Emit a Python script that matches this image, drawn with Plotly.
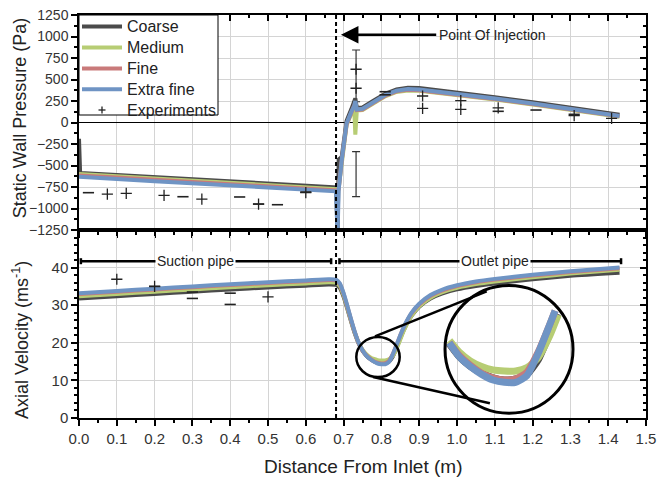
import plotly.graph_objects as go

# ---------------- data ----------------
x_pres = [0.0, 0.003, 0.1, 0.2, 0.3, 0.4, 0.5, 0.6, 0.68, 0.684, 0.687, 0.695, 0.708, 0.72, 0.728,
          0.731, 0.735, 0.75, 0.78, 0.81, 0.84, 0.87, 0.90, 0.95, 1.0, 1.1, 1.2, 1.3, 1.43]
p_coarse = [-190, -586, -610, -635, -660, -685, -710, -735, -755, -1300, -430, -400, 20, 150, 230,
            280, 170, 175, 255, 335, 385, 405, 400, 375, 350, 295, 235, 170, 90]
p_medium = [-600, -601, -625, -650, -675, -700, -725, -750, -770, -775, -760, -450, -30, 100, 170,
            -140, 140, 145, 225, 305, 355, 372, 368, 345, 320, 268, 210, 145, 68]
p_fine = [-615, -616, -640, -665, -690, -715, -740, -765, -785, -790, -775, -445, -20, 110, 180,
          230, 145, 150, 232, 312, 362, 380, 376, 352, 328, 274, 215, 150, 72]
p_extra = [-632, -633, -657, -682, -707, -732, -757, -782, -800, -1300, -780, -440, -10, 120, 190,
           250, 150, 160, 240, 320, 370, 390, 385, 360, 335, 280, 220, 155, 75]

x_vel = [0.0, 0.1, 0.2, 0.3, 0.4, 0.5, 0.6, 0.66, 0.68, 0.69, 0.70, 0.71, 0.72, 0.73, 0.74, 0.75,
         0.76, 0.77, 0.78, 0.79, 0.80, 0.81, 0.82, 0.83, 0.84, 0.85, 0.86, 0.88, 0.90, 0.93, 0.96,
         1.0, 1.05, 1.1, 1.2, 1.3, 1.43]
v_coarse = [31.8, 32.4, 33.0, 33.6, 34.2, 34.7, 35.2, 35.5, 35.4, 34.6, 32.2, 29.0, 25.6, 22.4, 19.8,
            17.9, 16.6, 15.7, 15.1, 14.7, 14.5, 14.6, 15.0, 16.3, 18.6, 21.2, 23.6, 27.2, 29.6, 31.8,
            33.1, 34.2, 35.1, 35.8, 36.9, 37.8, 38.6]
v_medium = [32.4, 33.0, 33.6, 34.2, 34.8, 35.3, 35.8, 36.1, 36.0, 35.1, 32.6, 29.3, 25.8, 22.6, 20.0,
            18.2, 17.0, 16.2, 15.7, 15.4, 15.3, 15.3, 15.6, 16.5, 18.4, 20.9, 23.4, 27.2, 29.7, 32.0,
            33.4, 34.6, 35.6, 36.3, 37.4, 38.4, 39.4]
v_fine = [33.0, 33.6, 34.2, 34.8, 35.4, 35.9, 36.4, 36.7, 36.6, 35.6, 33.0, 29.6, 26.0, 22.7, 19.9,
          18.0, 16.7, 15.8, 15.1, 14.7, 14.5, 14.6, 15.2, 17.0, 19.4, 22.0, 24.3, 27.9, 30.2, 32.5,
          33.9, 35.1, 36.1, 36.8, 37.9, 38.8, 39.8]
v_extra = [33.2, 33.8, 34.4, 35.0, 35.6, 36.1, 36.6, 36.9, 36.8, 35.8, 33.2, 29.8, 26.2, 22.8, 20.0,
           18.0, 16.6, 15.7, 15.0, 14.5, 14.3, 14.3, 14.9, 16.9, 19.4, 22.0, 24.4, 28.0, 30.4, 32.7,
           34.1, 35.3, 36.3, 37.0, 38.1, 39.0, 40.0]

# experiments (pressure)
p_plus_x = [0.075, 0.125, 0.225, 0.325, 0.475, 0.6, 0.733, 0.733, 0.909, 0.909, 1.01, 1.01, 1.109, 1.31, 1.409]
p_plus_y = [-832, -824, -847, -890, -948, -816, 619, 398, 308, 165, 254, 153, 170, 79, 49]
p_dash_x = [0.025, 0.275, 0.425, 0.475, 0.525, 0.6, 0.81, 0.81, 1.109, 1.209, 1.31]
p_dash_y = [-816, -863, -866, -948, -956, -808, 358, 322, 130, 145, 95]
eb_x = [0.733, 0.733]
eb_center = [542, -601]
eb_half = [301, 262]
# experiments (velocity)
v_plus_x = [0.1, 0.2, 0.5]
v_plus_y = [36.9, 35.0, 32.2]
v_dash_x = [0.2, 0.3, 0.3, 0.4, 0.4]
v_dash_y = [35.0, 31.8, 33.5, 33.2, 30.2]

names = ["Coarse", "Medium", "Fine", "Extra fine"]
exp_name = "Experiments"
colors = ["#4b4b4b", "#b7cd74", "#c97a7a", "#6f94c4"]

# ---------------- layout geometry ----------------
SPLIT = 0.4665
XR = [0, 1.5]
PR = [-1250, 1250]
VR = [0, 50]
INJ = 0.68

fig = go.Figure()

# error bars (behind curves)
fig.add_trace(go.Scatter(x=eb_x, y=eb_center, mode="markers", marker=dict(size=0.1, color="rgba(0,0,0,0)"),
                         error_y=dict(type="data", array=eb_half, color="#333", thickness=1.2, width=4),
                         showlegend=False, xaxis="x", yaxis="y", hoverinfo="skip"))

pres = [p_coarse, p_medium, p_fine, p_extra]
vels = [v_coarse, v_medium, v_fine, v_extra]
for n, c, p in zip(names, colors, pres):
    fig.add_trace(go.Scatter(x=x_pres, y=p, mode="lines", name=n, legendgroup=n, showlegend=False,
                             line=dict(color=c, width=4), xaxis="x", yaxis="y"))
for n, c, v in zip(names, colors, vels):
    fig.add_trace(go.Scatter(x=x_vel, y=v, mode="lines", name=n, legendgroup=n, showlegend=False,
                             line=dict(color=c, width=4, shape="spline", smoothing=0.6),
                             xaxis="x2", yaxis="y2"))

plus_m = dict(symbol="cross-thin", size=8, line=dict(width=1.3, color="#222"))
dash_m = dict(symbol="line-ew", size=8, line=dict(width=1.6, color="#222"))
fig.add_trace(go.Scatter(x=p_plus_x, y=p_plus_y, mode="markers", name=exp_name, marker=plus_m,
                         showlegend=False, xaxis="x", yaxis="y"))
fig.add_trace(go.Scatter(x=p_dash_x, y=p_dash_y, mode="markers", showlegend=False, marker=dash_m,
                         xaxis="x", yaxis="y"))
fig.add_trace(go.Scatter(x=v_plus_x, y=v_plus_y, mode="markers", showlegend=False, marker=plus_m,
                         xaxis="x2", yaxis="y2"))
fig.add_trace(go.Scatter(x=v_dash_x, y=v_dash_y, mode="markers", showlegend=False, marker=dash_m,
                         xaxis="x2", yaxis="y2"))

# ---------------- inset (magnified dip) ----------------
small_c = (0.791, 16.2, 0.0574, 5.32)          # centre x, centre v, radius x, radius v
big_c = (1.1376, 18.27, 0.1693, 17.0)
ins_x = [0.7477, 0.8606]
ins_v = [11.55, 22.9]


def clip_circle(xs, ys, cx, cy, rx, ry):
    ox, oy = [], []
    for i in range(len(xs) - 1):
        u0, w0 = (xs[i] - cx) / rx, (ys[i] - cy) / ry
        u1, w1 = (xs[i + 1] - cx) / rx, (ys[i + 1] - cy) / ry
        du, dw = u1 - u0, w1 - w0
        a = du * du + dw * dw
        b = 2 * (u0 * du + w0 * dw)
        c = u0 * u0 + w0 * w0 - 1
        disc = b * b - 4 * a * c
        if a == 0 or disc < 0:
            continue
        s = disc ** 0.5
        ta, tb = max(0.0, (-b - s) / (2 * a)), min(1.0, (-b + s) / (2 * a))
        if ta >= tb:
            continue
        for t in (ta, tb):
            px, py = xs[i] + t * (xs[i + 1] - xs[i]), ys[i] + t * (ys[i + 1] - ys[i])
            if not ox or abs(ox[-1] - px) > 1e-9 or abs(oy[-1] - py) > 1e-9:
                ox.append(px)
                oy.append(py)
    return ox, oy


icx, icy = sum(ins_x) / 2, sum(ins_v) / 2
irx, iry = (ins_x[1] - ins_x[0]) / 2 * 0.94, (ins_v[1] - ins_v[0]) / 2 * 0.94
for n, c, v in zip(names, colors, vels):
    cxs, cys = clip_circle(x_vel, v, icx, icy, irx, iry)
    fig.add_trace(go.Scatter(x=cxs, y=cys, mode="lines", showlegend=False,
                             line=dict(color=c, width=7, shape="spline", smoothing=0.6),
                             xaxis="x5", yaxis="y5", hoverinfo="skip"))

# ---------------- axes ----------------
font = "Liberation Sans, Arial, sans-serif"
tickfont = dict(family=font, size=15, color="#333")
grid = "#d4d4d4"
common = dict(showline=True, linecolor="black", linewidth=1.5, tickcolor="black", tickwidth=1.5,
              ticklen=6, automargin=False)

fig.update_layout(
    xaxis=dict(domain=[0, 1], anchor="y", range=XR, dtick=0.1, ticks="outside", showticklabels=False,
               showgrid=True, gridcolor=grid, zeroline=False,
               minor=dict(dtick=0.05, ticks="outside", ticklen=3, tickcolor="black"), **common),
    yaxis=dict(domain=[SPLIT, 1], anchor="x", range=PR, tickvals=list(range(-1250, 1251, 250)),
               ticks="outside", tickfont=dict(family=font, size=14, color="#333"),
               showgrid=True, gridcolor=grid, zeroline=True, zerolinecolor="black", zerolinewidth=1,
               minor=dict(dtick=125, ticks="outside", ticklen=3, tickcolor="black"), **common),
    xaxis2=dict(domain=[0, 1], anchor="y2", range=XR, dtick=0.1, tickformat=".1f", ticks="outside",
                tickfont=tickfont, showgrid=True, gridcolor=grid, zeroline=False,
                minor=dict(dtick=0.05, ticks="outside", ticklen=3, tickcolor="black"), **common),
    yaxis2=dict(domain=[0, SPLIT], anchor="x2", range=VR, tickvals=[0, 10, 20, 30, 40], ticks="outside",
                tickfont=tickfont, showgrid=True, gridcolor=grid, zeroline=False,
                minor=dict(dtick=2, ticks="outside", ticklen=3, tickcolor="black"), **common),
    xaxis3=dict(overlaying="x", anchor="y", side="top", range=XR, dtick=0.1, ticks="inside",
                showticklabels=False, showgrid=False, zeroline=False,
                minor=dict(dtick=0.05, ticks="inside", ticklen=3, tickcolor="black"), **common),
    yaxis3=dict(overlaying="y", anchor="x", side="right", range=PR, dtick=250, ticks="inside",
                showticklabels=False, showgrid=False, zeroline=False,
                minor=dict(dtick=125, ticks="inside", ticklen=3, tickcolor="black"), **common),
    xaxis4=dict(overlaying="x2", anchor="y2", side="top", range=XR, dtick=0.1, ticks="inside",
                showticklabels=False, showgrid=False, zeroline=False,
                minor=dict(dtick=0.05, ticks="inside", ticklen=3, tickcolor="black"), **common),
    yaxis4=dict(overlaying="y2", anchor="x2", side="right", range=VR, dtick=10, ticks="inside",
                showticklabels=False, showgrid=False, zeroline=False,
                minor=dict(dtick=2, ticks="inside", ticklen=3, tickcolor="black"), **common),
    xaxis5=dict(domain=[(big_c[0] - big_c[2]) / 1.5, (big_c[0] + big_c[2]) / 1.5], anchor="y5",
                range=ins_x, visible=False, automargin=False),
    yaxis5=dict(domain=[SPLIT * (big_c[1] - big_c[3]) / 50, SPLIT * (big_c[1] + big_c[3]) / 50],
                anchor="x5", range=ins_v, visible=False, automargin=False),
)

# dummy traces so that mirror axes are drawn
for xa, ya in (("x3", "y"), ("x", "y3"), ("x4", "y2"), ("x2", "y4")):
    fig.add_trace(go.Scatter(x=[None], y=[None], xaxis=xa, yaxis=ya, showlegend=False, hoverinfo="skip"))

shapes = [
    dict(type="line", xref="x", yref="paper", x0=INJ, x1=INJ, y0=0, y1=1,
         line=dict(color="black", width=2, dash="4px,3px"), layer="above"),
    # pipe extent lines
    dict(type="line", xref="x2", yref="y2", x0=0.005, x1=0.667, y0=41.7, y1=41.7, line=dict(color="black", width=2.5)),
    dict(type="line", xref="x2", yref="y2", x0=0.689, x1=1.434, y0=41.7, y1=41.7, line=dict(color="black", width=2.5)),
]
for xc in (0.005, 0.667, 0.689, 1.434):
    shapes.append(dict(type="line", xref="x2", yref="y2", x0=xc, x1=xc, y0=40.9, y1=42.5,
                       line=dict(color="black", width=2.5)))
# magnifier circles and connectors
sx, sy, srx, sry = small_c
bx, by, brx, bry = big_c
shapes += [
    dict(type="circle", xref="x2", yref="y2", x0=sx - srx, x1=sx + srx, y0=sy - sry, y1=sy + sry,
         line=dict(color="black", width=2.5), layer="above"),
    dict(type="circle", xref="x2", yref="y2", x0=bx - brx, x1=bx + brx, y0=by - bry, y1=by + bry,
         line=dict(color="black", width=3), layer="above"),
    dict(type="line", xref="x2", yref="y2", x0=0.783, y0=21.7, x1=1.0786, y1=33.7,
         line=dict(color="black", width=2.5), layer="above"),
    dict(type="line", xref="x2", yref="y2", x0=0.778, y0=10.9, x1=1.087, y1=3.9,
         line=dict(color="black", width=2.5), layer="above"),
]

# ---------------- legend (drawn in the top-left corner of the upper panel) ----------------
PW, PH, ML, MT = 567.0, 403.0, 79.0, 15.0   # plot-area size and margins in px


def px2paper(px, py):
    return (px - ML) / PW, 1 - (py - MT) / PH


lx0, ly0 = px2paper(79, 15)
lx1, ly1 = px2paper(218, 115)
shapes.append(dict(type="rect", xref="paper", yref="paper", x0=lx0, x1=lx1, y0=ly1, y1=ly0,
                   fillcolor="white", line=dict(color="black", width=1), layer="above"))
annotations = []
legend_rows = [26.5, 47.5, 68.5, 89.3, 110.0]
for i, (n, c) in enumerate(zip(names, colors)):
    a0, b0 = px2paper(82, legend_rows[i])
    a1, _ = px2paper(122, legend_rows[i])
    shapes.append(dict(type="line", xref="paper", yref="paper", x0=a0, x1=a1, y0=b0, y1=b0,
                       line=dict(color=c, width=4), layer="above"))
ex, ey = px2paper(102, legend_rows[4])
dx, dy = 3.5 / PW, 3.5 / PH
shapes.append(dict(type="line", xref="paper", yref="paper", x0=ex - dx, x1=ex + dx, y0=ey, y1=ey,
                   line=dict(color="#222", width=1.3), layer="above"))
shapes.append(dict(type="line", xref="paper", yref="paper", x0=ex, x1=ex, y0=ey - dy, y1=ey + dy,
                   line=dict(color="#222", width=1.3), layer="above"))
for i, n in enumerate(names + [exp_name]):
    tx, ty = px2paper(125, legend_rows[i])
    annotations.append(dict(text=n, xref="paper", yref="paper", x=tx, y=ty, xanchor="left",
                            yanchor="middle", showarrow=False,
                            font=dict(family=font, size=16, color="#222")))

tx_x, tx_y = px2paper(362.5, 466)
annotations += [
    dict(text="Static Wall Pressure (Pa)", xref="paper", yref="paper", x=-0.104, y=0.744,
         xanchor="center", yanchor="middle",
         textangle=-90, showarrow=False, font=dict(family=font, size=18, color="#222")),
    dict(text="Axial Velocity (ms<sup>-1</sup>)", xref="paper", yref="paper", x=-0.104, y=0.1935,
         xanchor="center", yanchor="middle",
         textangle=-90, showarrow=False, font=dict(family=font, size=18, color="#222")),
    dict(text="Distance From Inlet (m)", xref="paper", yref="paper", x=tx_x, y=tx_y,
         xanchor="center", yanchor="middle", showarrow=False,
         font=dict(family=font, size=19, color="#222")),
    dict(text="Point Of Injection", x=0.693, y=1020, xref="x", yref="y", ax=0.945, ay=1020,
         axref="x", ayref="y", xanchor="left", borderpad=2,
         showarrow=True, arrowhead=2, arrowsize=1.4, arrowwidth=2.5, arrowcolor="black",
         font=dict(family=font, size=14, color="#222")),
    dict(text="Suction pipe", x=0.307, y=41.7, xref="x2", yref="y2", showarrow=False,
         bgcolor="white", borderpad=1, font=dict(family=font, size=14, color="#222")),
    dict(text="Outlet pipe", x=1.10, y=41.7, xref="x2", yref="y2", showarrow=False,
         bgcolor="white", borderpad=1, font=dict(family=font, size=14, color="#222")),
]

fig.update_layout(
    width=660, height=483, margin=dict(l=79, r=14, t=15, b=65, autoexpand=False),
    paper_bgcolor="white", plot_bgcolor="rgba(0,0,0,0)",
    font=dict(family=font, color="#222"),
    showlegend=False,
    shapes=shapes, annotations=annotations,
)

fig.write_html("out.html")
